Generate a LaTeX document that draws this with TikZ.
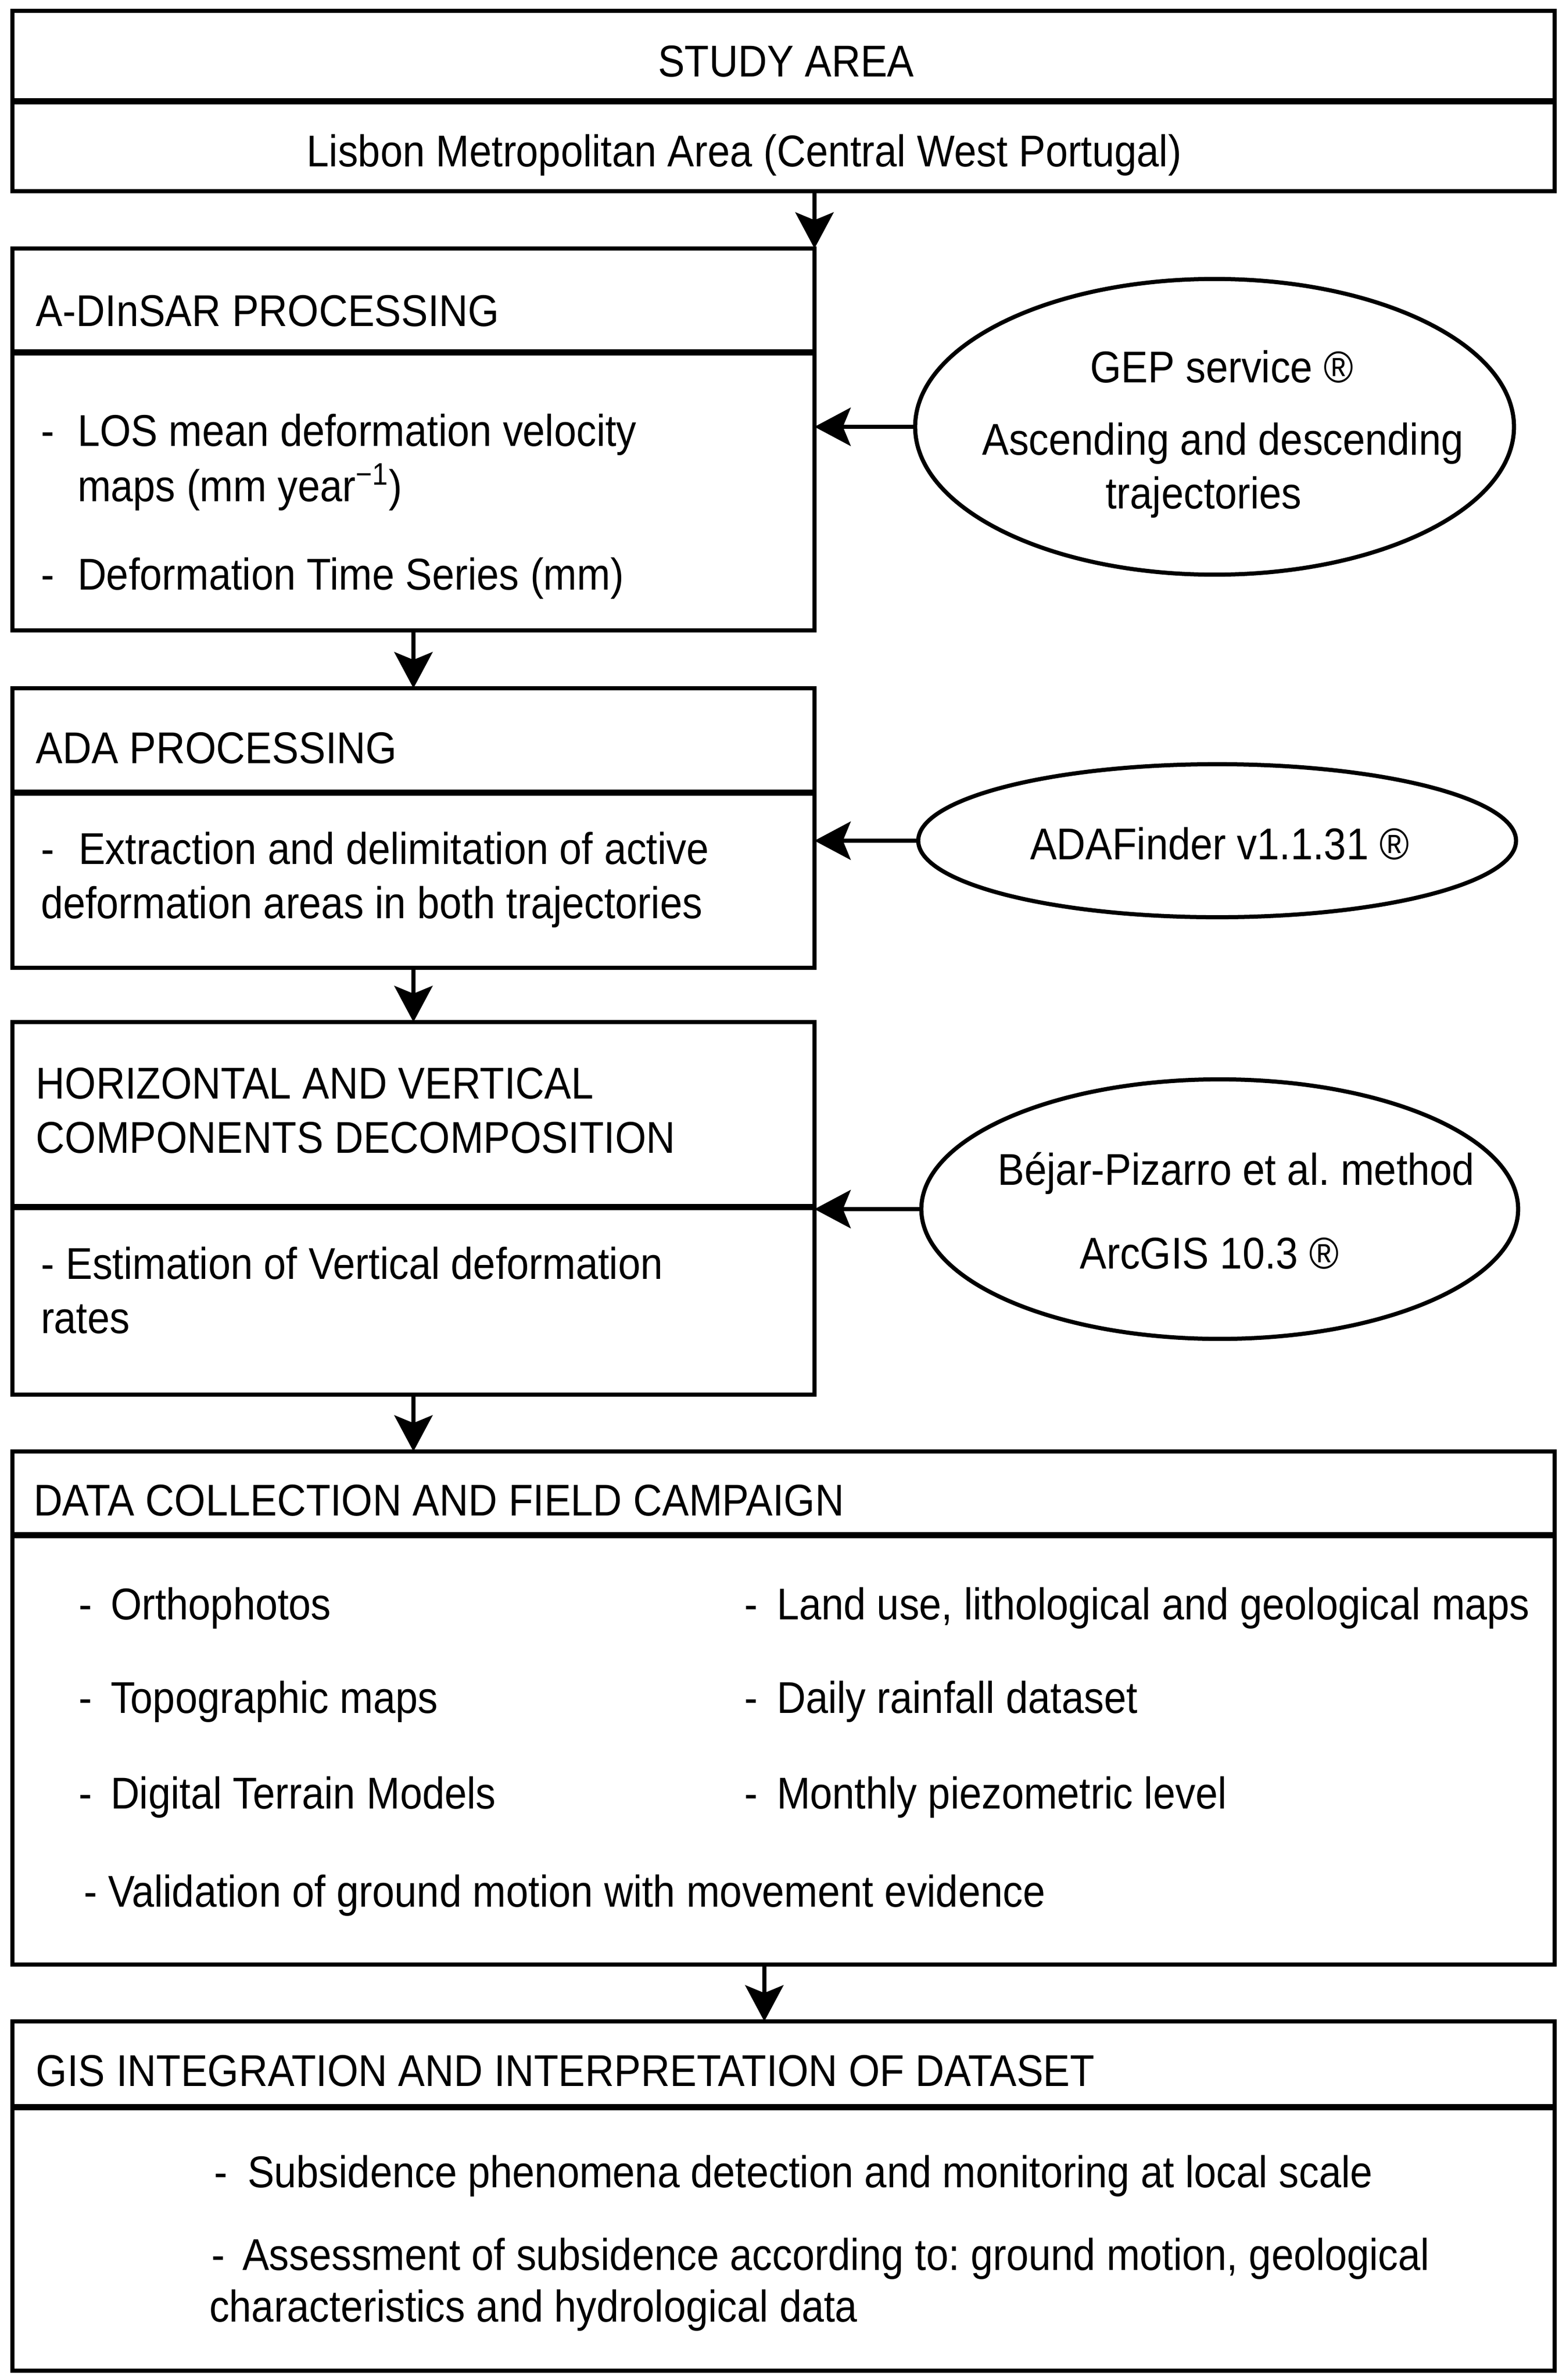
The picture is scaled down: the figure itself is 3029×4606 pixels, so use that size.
\documentclass[tikz,border=0pt]{standalone}
\usepackage{fontspec}
\setmainfont{Liberation Sans}[FakeStretch=0.9]
\usetikzlibrary{arrows.meta,shapes.geometric,calc}
\frenchspacing
\begin{document}
\begin{tikzpicture}[x=0.01cm,y=-0.01cm,
  box/.style={draw, line width=0.08cm, anchor=north west, inner sep=0pt, outer sep=0pt},
  divline/.style={line width=0.125cm},
  oval/.style={draw, ellipse, line width=0.08cm, inner sep=0pt, outer sep=0pt},
  txt/.style={anchor=base west, inner sep=0pt, outer sep=0pt, font=\fontsize{24.5}{30}\selectfont},
  ctxt/.style={txt, anchor=base},
  arr/.style={line width=0.075cm, -{Stealth[length=0.7cm,width=0.74cm,inset=0.15cm]}}
]
\useasboundingbox (0,0) rectangle (3029,4606);

% boxes
\node[box, minimum width=29.82cm, minimum height=3.49cm] (study) at (24,21) {};
\node[box, minimum width=15.51cm, minimum height=7.39cm] (adin) at (24,481) {};
\node[box, minimum width=15.51cm, minimum height=5.41cm] (ada) at (24,1332) {};
\node[box, minimum width=15.51cm, minimum height=7.21cm] (hv) at (24,1978) {};
\node[box, minimum width=29.82cm, minimum height=9.92cm] (dc) at (24,2809) {};
\node[box, minimum width=29.82cm, minimum height=6.76cm] (gis) at (24,3912) {};

% dividers
\draw[divline] (24,196) -- (3006,196);
\draw[divline] (24,682) -- (1575,682);
\draw[divline] (24,1534) -- (1575,1534);
\draw[divline] (24,2336) -- (1575,2336);
\draw[divline] (24,2971) -- (3006,2971);
\draw[divline] (24,4078) -- (3006,4078);

% ellipses
\node[oval, minimum width=11.58cm, minimum height=5.72cm] (gep) at (2350,826) {};
\node[oval, minimum width=11.56cm, minimum height=2.96cm] (adaf) at (2355,1627) {};
\node[oval, minimum width=11.54cm, minimum height=5.02cm] (bej) at (2360,2340) {};

% connectors
\draw[arr] (study.south -| adin.east) -- (adin.north east);
\draw[arr] (adin.south) -- (ada.north);
\draw[arr] (ada.south) -- (hv.north);
\draw[arr] (hv.south) -- (hv.south |- dc.north);
\draw[arr] ([xshift=-0.37cm]dc.south) -- ([xshift=-0.37cm]gis.north);
\draw[arr] (gep.west) -- (gep.west -| adin.east);
\draw[arr] (adaf.west) -- (adaf.west -| ada.east);
\draw[arr] (bej.west) -- (bej.west -| hv.east);

% study area
\node[ctxt] (t1) at (1521,149) {STUDY AREA};
\node[ctxt] (t2) at (1440,323) {Lisbon Metropolitan Area (Central West Portugal)};

% A-DInSAR
\node[txt] (t3) at (70,631) {A-DInSAR PROCESSING};
\node[txt] (t4d) at (80,863) {-};
\node[txt] (t4) at (150,863) {LOS mean deformation velocity};
\node[txt] (t5) at (150,970) {maps (mm year\textsuperscript{\char"2212 1})};
\node[txt] (t6d) at (80,1141) {-};
\node[txt] (t6) at (150,1141) {Deformation Time Series (mm)};

% GEP
\node[ctxt] (g1) at (2364,740) {GEP service ®};
\node[ctxt] (g2) at (2366,880) {Ascending and descending};
\node[ctxt] (g3) at (2329,984) {trajectories};

% ADA
\node[txt] (a1) at (70,1477) {ADA PROCESSING};
\node[txt] (a2d) at (80,1672) {-};
\node[txt] (a2) at (152,1672) {Extraction and delimitation of active};
\node[txt] (a3) at (79,1777) {deformation areas in both trajectories};
\node[ctxt] (f1) at (2360,1663) {ADAFinder v1.1.31 ®};

% HV
\node[txt] (h1) at (70,2126) {HORIZONTAL AND VERTICAL};
\node[txt] (h2) at (70,2231) {COMPONENTS DECOMPOSITION};
\node[txt] (h3) at (80,2475) {- Estimation of Vertical deformation};
\node[txt] (h4) at (79,2580) {rates};
\node[ctxt] (b1) at (2392,2293) {Béjar-Pizarro et al. method};
\node[ctxt] (b2) at (2340,2455) {ArcGIS 10.3 ®};

% Data collection
\node[txt] (d0) at (65,2933) {DATA COLLECTION AND FIELD CAMPAIGN};
\node[txt] (d1d) at (152,3134) {-};
\node[txt] (d1) at (214,3134) {Orthophotos};
\node[txt] (d2d) at (152,3315) {-};
\node[txt] (d2) at (214,3315) {Topographic maps};
\node[txt] (d3d) at (152,3500) {-};
\node[txt] (d3) at (214,3500) {Digital Terrain Models};
\node[txt] (d4d) at (1440,3134) {-};
\node[txt] (d4) at (1503,3134) {Land use, lithological and geological maps};
\node[txt] (d5d) at (1440,3315) {-};
\node[txt] (d5) at (1503,3315) {Daily rainfall dataset};
\node[txt] (d6d) at (1440,3500) {-};
\node[txt] (d6) at (1503,3500) {Monthly piezometric level};
\node[txt] (d7) at (162,3690) {- Validation of ground motion with movement evidence};

% GIS
\node[txt] (s0) at (70,4037) {GIS INTEGRATION AND INTERPRETATION OF DATASET};
\node[txt] (s1d) at (414,4233) {-};
\node[txt] (s1) at (479,4233) {Subsidence phenomena detection and monitoring at local scale};
\node[txt] (s2d) at (409,4393) {-};
\node[txt] (s2) at (469,4393) {Assessment of subsidence according to: ground motion, geological};
\node[txt] (s3) at (405,4493) {characteristics and hydrological data};
\end{tikzpicture}
\end{document}
